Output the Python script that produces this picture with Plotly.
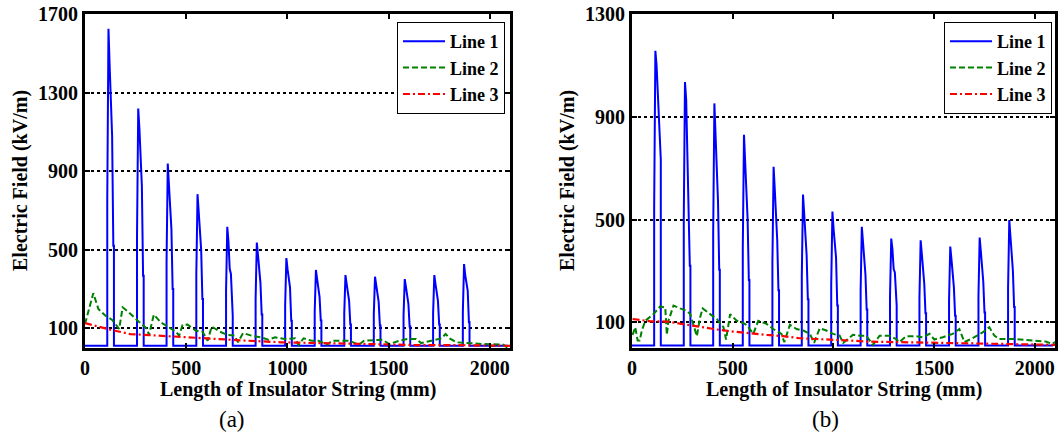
import plotly.graph_objects as go

# ---------------- data (mm, kV/m) ----------------
spike_x = [110, 257, 403, 550, 697, 843, 989, 1135, 1281, 1427, 1574, 1720, 1867]

# (a) Line 1 spikes
a_peak  = [1625, 1219, 939, 783, 617, 537, 458, 397, 371, 363, 351, 371, 427]
a_rise  = [760, 571, 440, 370, 290, 250, 216, 185, 175, 170, 165, 175, 182]
a_tail1 = [1430, 1114, 825, 690, 540, 470, 400, 350, 325, 320, 310, 325, 370]
a_tail2 = [1250, 936, 698, 590, 403, 400, 335, 300, 280, 275, 265, 280, 318]
a_tail3 = [1080, 825, 605, 500, 377, 330, 309, 260, 240, 235, 225, 240, 292]
a_tail4 = [520, 368, 300, 250, 165, 170, 139, 140, 120, 115, 110, 120, 131]
a_base = 12

# (b) Line 1 spikes
b_peak  = [1157, 1035, 952, 830, 705, 597, 531, 472, 426, 419, 395, 430, 498]
b_rise  = [545, 500, 450, 390, 330, 280, 245, 222, 203, 197, 185, 202, 234]
b_tail1 = [1100, 967, 830, 720, 615, 520, 461, 410, 384, 365, 345, 375, 433]
b_tail2 = [974, 709, 715, 620, 530, 450, 397, 355, 307, 315, 295, 322, 374]
b_tail3 = [845, 600, 570, 500, 420, 360, 352, 285, 294, 250, 237, 258, 300]
b_tail4 = [734, 320, 305, 265, 225, 190, 165, 150, 165, 135, 126, 138, 160]
b_base = 10

# (a) Line 2
a2_x = [0, 41, 66, 100, 133, 158, 169, 186, 216, 266, 307, 316, 340, 374, 415, 449, 465, 482, 507,
        548, 581, 606, 626, 673, 706, 739, 756, 781, 822, 872, 905, 939, 988, 1038, 1055, 1080,
        1121, 1154, 1196, 1221, 1304, 1354, 1379, 1470, 1503, 1553, 1595, 1636, 1661, 1719, 1761,
        1782, 1802, 1835, 1885, 1968, 2068, 2085, 2110]
a2_y = [122, 279, 199, 165, 144, 114, 97, 207, 182, 134, 97, 66, 170, 131, 105, 83, 63, 117, 119,
        88, 83, 37, 109, 80, 66, 63, 29, 76, 63, 54, 42, 54, 46, 49, 15, 49,
        37, 37, 17, 37, 37, 17, 37, 42, 20, 37, 46, 46, 25, 37, 49,
        71, 49, 29, 25, 20, 17, 3, 17]

# (a) Line 3
a3_x = [0, 125, 224, 307, 473, 640, 805, 972, 1138, 1304, 1470, 1636, 1802, 1968, 2110]
a3_y = [127, 93, 71, 66, 54, 46, 37, 29, 25, 23, 17, 15, 15, 11, 11]

# (b) Line 2
b2_x = [3, 16, 28, 38, 49, 66, 107, 140, 165, 173, 181, 206, 239, 272, 289, 305, 322, 338, 351,
        388, 421, 454, 467, 487, 520, 553, 569, 602, 627, 668, 701, 742, 756, 784, 817, 850,
        883, 904, 932, 965, 998, 1031, 1048, 1072, 1097, 1138, 1163, 1196, 1229, 1278, 1311,
        1328, 1361, 1411, 1444, 1477, 1501, 1543, 1592, 1625, 1650, 1691, 1741, 1774, 1799,
        1823, 1906, 1988, 2054, 2087, 2112]
b2_y = [51, 81, 29, 29, 68, 106, 132, 162, 158, 51, 106, 165, 154, 145, 132, 94, 46, 119, 154,
        132, 113, 81, 33, 132, 106, 97, 90, 55, 106, 94, 74, 55, 23, 90, 74, 68,
        55, 20, 77, 68, 55, 48, 20, 35, 51, 48, 48, 12, 48, 48, 35,
        23, 46, 46, 42, 55, 33, 42, 55, 74, 23, 38, 61, 81, 48,
        35, 35, 29, 25, 16, 29]

# (b) Line 3
b3_x = [3, 91, 173, 272, 338, 421, 503, 586, 668, 751, 833, 916, 998, 1081, 1163, 1328, 1493,
        1741, 1906, 2112]
b3_y = [113, 104, 103, 90, 81, 72, 64, 57, 51, 46, 38, 35, 33, 29, 25, 23, 20, 19, 16, 12]

x_ticks = [0, 500, 1000, 1500, 2000]
a_yticks = [100, 500, 900, 1300, 1700]
b_yticks = [100, 500, 900, 1300]
series_names = ["Line 1", "Line 2", "Line 3"]
x_title = "Length of Insulator String (mm)"
y_title = "Electric Field (kV/m)"
panel_labels = ["(a)", "(b)"]

# ---------------- build ----------------
def spike_line(peak, rise, t1, t2, t3, t4, base):
    xs, ys = [0], [base]
    for x0, p, r, a, b, c, d in zip(spike_x, peak, rise, t1, t2, t3, t4):
        xs += [x0, x0, x0 + 6, x0 + 12, x0 + 18, x0 + 24, x0 + 30, x0 + 33, x0 + 33]
        ys += [base, r, p, a, b, c, d, d, base]
    xs.append(2090)
    ys.append(base)
    return xs, ys

FONT = "Liberation Serif"
BLUE, GREEN, RED = "#0000FF", "#008000", "#FF0000"

fig = go.Figure()
ax, ay = spike_line(a_peak, a_rise, a_tail1, a_tail2, a_tail3, a_tail4, a_base)
bx, by = spike_line(b_peak, b_rise, b_tail1, b_tail2, b_tail3, b_tail4, b_base)

panels = [
    (ax, ay, a2_x, a2_y, a3_x, a3_y, "x", "y", "legend"),
    (bx, by, b2_x, b2_y, b3_x, b3_y, "x2", "y2", "legend2"),
]
for l1x, l1y, l2x, l2y, l3x, l3y, xa, ya, lg in panels:
    fig.add_trace(go.Scatter(x=l1x, y=l1y, mode="lines", name=series_names[0],
                             line=dict(color=BLUE, width=2), xaxis=xa, yaxis=ya, legend=lg))
    fig.add_trace(go.Scatter(x=l2x, y=l2y, mode="lines", name=series_names[1],
                             line=dict(color=GREEN, width=2, dash="6px,3px"),
                             xaxis=xa, yaxis=ya, legend=lg))
    fig.add_trace(go.Scatter(x=l3x, y=l3y, mode="lines", name=series_names[2],
                             line=dict(color=RED, width=2.2, dash="7px,3px,2px,3px"),
                             xaxis=xa, yaxis=ya, legend=lg))

W, H = 1059, 436
y_dom = [1 - 348 / H, 1 - 14 / H]
tickfont = dict(family=FONT, size=20, color="black", weight="bold")

def xaxis(domain, anchor):
    return dict(domain=domain, anchor=anchor, range=[0, 2100], tickvals=x_ticks,
                showline=True, linewidth=3, linecolor="black", mirror="ticks",
                ticks="inside", ticklen=5, tickwidth=2, tickcolor="black",
                showgrid=False, zeroline=False, tickfont=tickfont, automargin=False)

def yaxis(rng, tv, anchor):
    return dict(domain=y_dom, anchor=anchor, range=rng, tickvals=tv,
                showline=True, linewidth=3, linecolor="black", mirror="ticks",
                ticks="inside", ticklen=5, tickwidth=2, tickcolor="black",
                showgrid=True, gridcolor="black", gridwidth=1.5, griddash="dot",
                zeroline=False, tickfont=tickfont, automargin=False)

legend_common = dict(bgcolor="white", bordercolor="black", borderwidth=1,
                     font=dict(family=FONT, size=18, color="black", weight="bold"),
                     itemwidth=42, yanchor="top", xanchor="right", tracegroupgap=0)

fig.update_layout(
    width=W, height=H, margin=dict(l=0, r=0, t=0, b=0, pad=0, autoexpand=False),
    paper_bgcolor="white", plot_bgcolor="white",
    xaxis=xaxis([85 / W, 510 / W], "y"),
    yaxis=yaxis([0, 1700], a_yticks, "x"),
    xaxis2=xaxis([632 / W, 1055 / W], "y2"),
    yaxis2=yaxis([0, 1300], b_yticks, "x2"),
    legend=dict(x=505 / W, y=1 - 22 / H, **legend_common),
    legend2=dict(x=1052 / W, y=1 - 22 / H, **legend_common),
    showlegend=True,
)

title_font = dict(family=FONT, size=20, color="black", weight="bold")
ann = []
for cx, ycx in [((85 + 510) / 2, 20), ((632 + 1055) / 2, 567)]:
    ann.append(dict(x=cx / W, y=1 - 389 / H, xref="paper", yref="paper", text=x_title,
                    showarrow=False, font=title_font, xanchor="center", yanchor="middle"))
    ann.append(dict(x=ycx / W, y=1 - 181 / H, xref="paper", yref="paper", text=y_title,
                    showarrow=False, font=title_font, textangle=-90,
                    xanchor="center", yanchor="middle"))
for i, lab_x in enumerate([232, 825]):
    ann.append(dict(x=lab_x / W, y=1 - 419 / H, xref="paper", yref="paper",
                    text=panel_labels[i], showarrow=False,
                    font=dict(family=FONT, size=23, color="black"),
                    xanchor="center", yanchor="middle"))
fig.update_layout(annotations=ann)

fig.write_html("out.html", config={"displayModeBar": False},
               post_script="document.body.style.margin='0px';document.body.style.overflow='hidden';")
